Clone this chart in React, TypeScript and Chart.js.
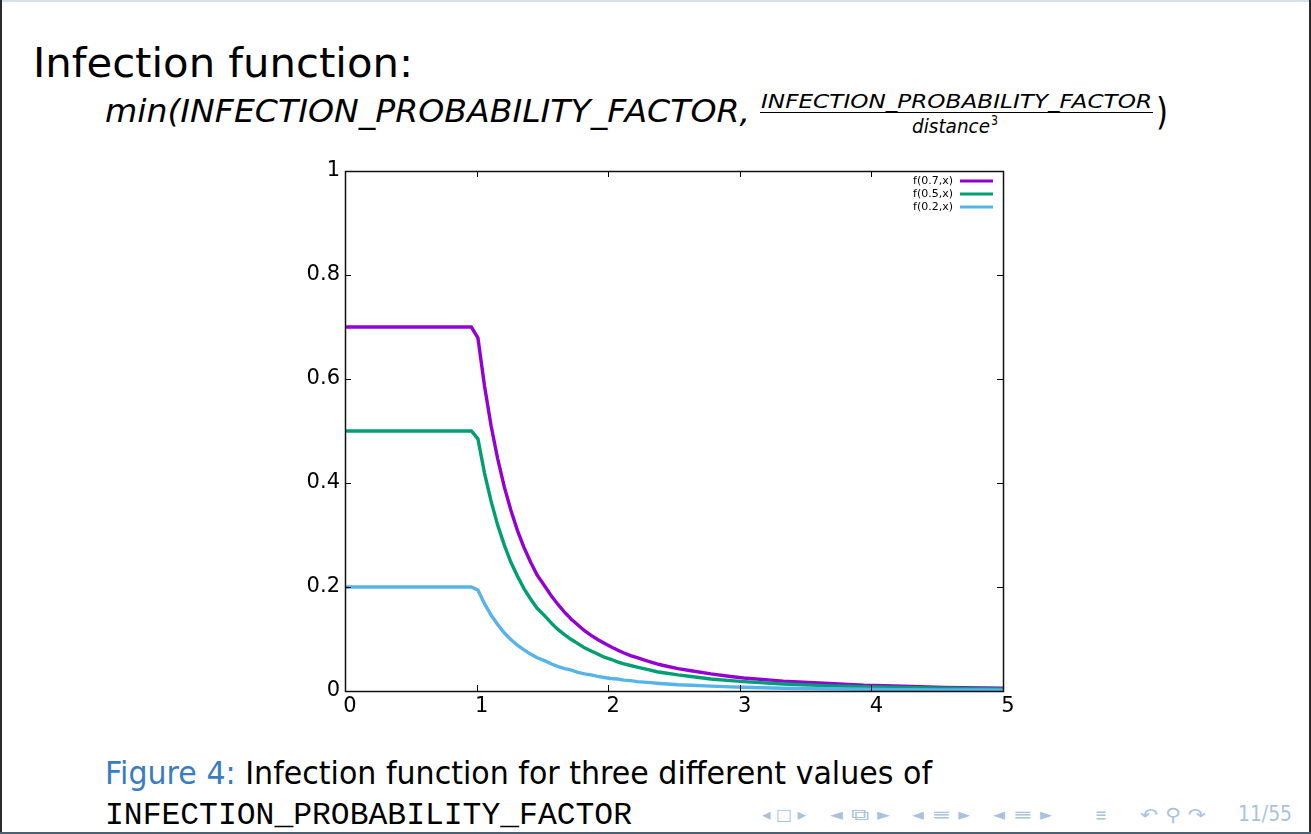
import React, { useEffect, useLayoutEffect, useRef } from "react";
import { Chart, registerables } from "chart.js";

Chart.register(...registerables);

// ---- data ----
const xValues = [0, 0.96, 1.01, 1.06, 1.11, 1.16, 1.21, 1.26, 1.31, 1.36, 1.41, 1.46, 1.52, 1.57, 1.62, 1.67, 1.72, 1.77, 1.82, 1.87, 1.92, 1.97, 2.02, 2.07, 2.12, 2.17, 2.22, 2.27, 2.32, 2.37, 2.42, 2.53, 2.63, 2.78, 2.93, 3.03, 3.33, 3.64, 3.94, 4.24, 4.55, 4.85, 5.0];
const f07 = [0.7, 0.7, 0.679, 0.587, 0.51, 0.447, 0.393, 0.348, 0.309, 0.276, 0.248, 0.223, 0.201, 0.182, 0.166, 0.151, 0.138, 0.127, 0.116, 0.107, 0.099, 0.092, 0.085, 0.079, 0.073, 0.068, 0.064, 0.06, 0.056, 0.052, 0.049, 0.043, 0.039, 0.033, 0.028, 0.025, 0.019, 0.015, 0.011, 0.009, 0.007, 0.006, 0.0056];
const f05 = [0.5, 0.5, 0.485, 0.419, 0.365, 0.319, 0.281, 0.248, 0.221, 0.197, 0.177, 0.159, 0.144, 0.13, 0.118, 0.108, 0.099, 0.091, 0.083, 0.077, 0.071, 0.065, 0.061, 0.056, 0.052, 0.049, 0.046, 0.043, 0.04, 0.037, 0.035, 0.031, 0.028, 0.023, 0.02, 0.018, 0.0135, 0.0104, 0.0082, 0.0066, 0.0053, 0.0044, 0.004];
const f02 = [0.2, 0.2, 0.194, 0.168, 0.146, 0.128, 0.112, 0.099, 0.088, 0.079, 0.071, 0.064, 0.058, 0.052, 0.047, 0.043, 0.04, 0.036, 0.033, 0.031, 0.028, 0.026, 0.024, 0.023, 0.021, 0.02, 0.018, 0.017, 0.016, 0.015, 0.014, 0.012, 0.011, 0.0093, 0.008, 0.0072, 0.0054, 0.0042, 0.0033, 0.0026, 0.0021, 0.0018, 0.0016];
const seriesLabels = ["f(0.7,x)", "f(0.5,x)", "f(0.2,x)"];
const seriesValues = [f07, f05, f02];
const seriesColors = ["#9400d3", "#009e73", "#56b4e9"];
const xTicks = [0, 1, 2, 3, 4, 5];
const yTicks = [0, 0.2, 0.4, 0.6, 0.8, 1];

const SANS = "'DejaVu Sans', sans-serif";
const MONO = "'Liberation Mono', 'DejaVu Sans Mono', monospace";

type TProps = {
  x: number;
  baseline: number;
  size: number;
  w?: number;
  family?: string;
  italic?: boolean;
  color?: string;
  k?: number;
  children: React.ReactNode;
};

function T({ x, baseline, size, w, family = SANS, italic, color = "#000", k = 0.846, children }: TProps) {
  const ref = useRef<HTMLSpanElement>(null);
  useLayoutEffect(() => {
    const el = ref.current;
    if (!el || !w) return;
    el.style.transform = "none";
    const cw = el.getBoundingClientRect().width;
    if (cw > 0) el.style.transform = `scaleX(${w / cw})`;
  }, [w]);
  return (
    <span
      ref={ref}
      style={{
        position: "absolute",
        left: x,
        top: baseline - k * size,
        fontSize: size,
        lineHeight: 1,
        fontFamily: family,
        fontStyle: italic ? "italic" : "normal",
        color,
        whiteSpace: "nowrap",
        transformOrigin: "left top",
      }}
    >
      {children}
    </span>
  );
}

const framePlugin = {
  id: "gnuFrame",
  afterDatasetsDraw(chart: any) {
    const { ctx, chartArea, scales } = chart;
    const { left, right, top, bottom } = chartArea;
    const xs = scales.x;
    const ys = scales.y;
    ctx.save();
    ctx.strokeStyle = "#000";
    ctx.lineWidth = 1;
    const tl = 6;
    ctx.beginPath();
    xTicks.forEach((v) => {
      const px = Math.round(xs.getPixelForValue(v)) + 0.5;
      ctx.moveTo(px, bottom);
      ctx.lineTo(px, bottom - tl);
      ctx.moveTo(px, top);
      ctx.lineTo(px, top + tl);
    });
    yTicks.forEach((v) => {
      const py = Math.round(ys.getPixelForValue(v)) + 0.5;
      ctx.moveTo(left, py);
      ctx.lineTo(left + tl, py);
      ctx.moveTo(right, py);
      ctx.lineTo(right - tl, py);
    });
    ctx.stroke();
    ctx.lineWidth = 1.5;
    ctx.strokeStyle = "#111";
    ctx.strokeRect(Math.round(left) + 0.5, Math.round(top) + 0.5, Math.round(right - left), Math.round(bottom - top));

    // legend (top right, gnuplot style)
    ctx.font = `11px ${SANS}`;
    ctx.textAlign = "right";
    ctx.textBaseline = "middle";
    chart.data.datasets.forEach((ds: any, i: number) => {
      const yy = top + 10 + i * 13;
      ctx.fillStyle = "#000";
      ctx.fillText(ds.label, right - 50, yy);
      ctx.strokeStyle = ds.borderColor;
      ctx.lineWidth = 3;
      ctx.beginPath();
      ctx.moveTo(right - 43, yy);
      ctx.lineTo(right - 10, yy);
      ctx.stroke();
    });
    ctx.restore();
  },
};

function InfectionChart() {
  const canvasRef = useRef<HTMLCanvasElement>(null);
  useEffect(() => {
    const canvas = canvasRef.current;
    if (!canvas) return;
    const datasets = seriesLabels.map((label, i) => ({
      label,
      data: xValues.map((xv, j) => ({ x: xv, y: seriesValues[i][j] })),
      borderColor: seriesColors[i],
      backgroundColor: seriesColors[i],
      borderWidth: 3.4,
      pointRadius: 0,
      tension: 0,
      fill: false,
      order: seriesLabels.length - i,
    }));
    const chart = new Chart(canvas, {
      type: "line",
      data: { datasets },
      options: {
        animation: false,
        responsive: false,
        maintainAspectRatio: false,
        layout: { padding: { top: 21, right: 27, left: 0, bottom: 0 } },
        plugins: { legend: { display: false }, tooltip: { enabled: false } },
        scales: {
          x: {
            type: "linear",
            min: 0,
            max: 5,
            afterBuildTicks: (s: any) => {
              s.ticks = xTicks.map((v) => ({ value: v }));
            },
            afterFit: (s: any) => {
              s.height = 39;
            },
            grid: { display: false, drawTicks: false },
            border: { display: false },
            ticks: {
              color: "#000",
              font: { family: "'DejaVu Sans'", size: 21 },
              padding: 3,
              labelOffset: 5,
              maxRotation: 0,
              autoSkip: false,
              callback: (v: any) => String(v),
            },
          },
          y: {
            type: "linear",
            min: 0,
            max: 1,
            afterBuildTicks: (s: any) => {
              s.ticks = yTicks.map((v) => ({ value: v }));
            },
            afterFit: (s: any) => {
              s.width = 55;
            },
            grid: { display: false, drawTicks: false },
            border: { display: false },
            ticks: {
              color: "#000",
              font: { family: "'DejaVu Sans'", size: 21 },
              padding: 5,
              autoSkip: false,
              callback: (v: any) => String(Math.round(v * 10) / 10),
            },
          },
        },
      },
      plugins: [framePlugin],
    } as any);
    return () => chart.destroy();
  }, []);
  return (
    <canvas
      ref={canvasRef}
      width={740}
      height={580}
      style={{ position: "absolute", left: 290, top: 150, width: 740, height: 580 }}
    />
  );
}

const NAV = "#a9c3df";

export default function App() {
  useEffect(() => {
    document.body.style.margin = "0";
  }, []);
  return (
    <div
      style={{
        position: "fixed",
        left: 0,
        top: 0,
        width: 1311,
        height: 834,
        background: "#fff",
        overflow: "hidden",
      }}
    >
      {/* frame lines */}
      <div style={{ position: "absolute", left: 0, top: 0, width: 1311, height: 2, background: "#d4e0ec" }} />
      <div style={{ position: "absolute", left: 0, top: 0, width: 2, height: 834, background: "#2b2b2b" }} />
      <div style={{ position: "absolute", left: 1309, top: 0, width: 2, height: 834, background: "#2b2b2b" }} />
      <div style={{ position: "absolute", left: 0, top: 832, width: 1311, height: 2, background: "#4d5f70" }} />

      <T x={33} baseline={77} size={40} w={380}>Infection function:</T>
      <T x={105} baseline={122} size={32} w={645} italic>
        min(INFECTION_PROBABILITY_FACTOR,
      </T>
      <T x={761} baseline={108} size={20} w={391} italic>
        INFECTION_PROBABILITY_FACTOR
      </T>
      <div style={{ position: "absolute", left: 760, top: 112, width: 393, height: 1.3, background: "#000" }} />
      <T x={912} baseline={133} size={20} w={78} italic>distance</T>
      <T x={991} baseline={125} size={14} w={7}>3</T>
      <T x={1156} baseline={124} size={38} w={12}>)</T>

      <InfectionChart />

      <T x={105} baseline={784} size={32} w={827}>
        <span style={{ color: "#3a7cc3" }}>Figure 4:</span> Infection function for three different values of
      </T>
      <T x={105} baseline={824} size={31} w={527} family={MONO} k={0.7665}>
        INFECTION_PROBABILITY_FACTOR
      </T>

      {/* navigation symbols */}
      <T x={762} baseline={821} size={16} w={44} color={NAV}>◂ □ ▸</T>
      <T x={830} baseline={821} size={16} w={60} color={NAV}>◂ ⧉ ▸</T>
      <T x={912} baseline={821} size={16} w={58} color={NAV}>◂ ≡ ▸</T>
      <T x={993} baseline={821} size={16} w={59} color={NAV}>◂ ≡ ▸</T>
      <T x={1095} baseline={821} size={18} w={12} color={NAV}>≡</T>
      <T x={1140} baseline={821} size={18} w={66} color={NAV}>↶ ⚲ ↷</T>
      <T x={1238} baseline={822} size={22} w={54} color={NAV}>11/55</T>
    </div>
  );
}
